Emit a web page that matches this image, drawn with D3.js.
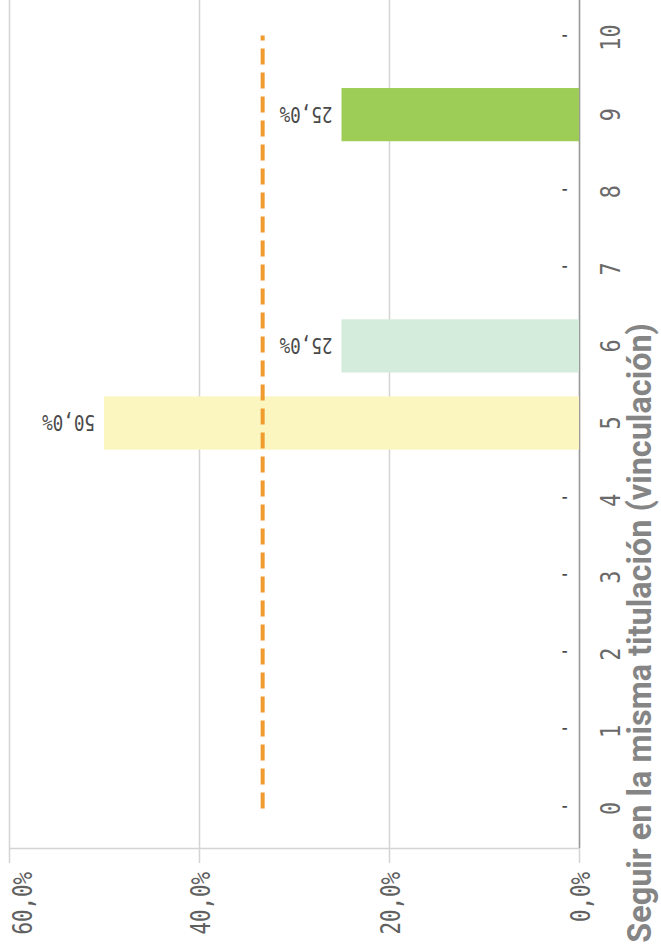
<!DOCTYPE html>
<html><head><meta charset="utf-8">
<script src="https://cdn.jsdelivr.net/npm/d3@7/dist/d3.min.js"></script>
<style>html,body{margin:0;padding:0;background:#fff;overflow:hidden}</style>
</head><body>
<script>
const categories = ["0","1","2","3","4","5","6","7","8","9","10"];
const values = [0,0,0,0,0,50,25,0,0,25,0];
const barColors = ["#e8604c","#ec7a4f","#f09a55","#f5b85e","#f8d46c","#fbf6bf","#d3ecdb","#bfe0a8","#afd67e","#9dcd57","#7fbf3f"];
const averageValue = 33.3;
const valueTicks = [0,20,40,60];
const title = "Seguir en la misma titulación (vinculación)";

const W = 661, H = 948;
const svg = d3.select("body").append("svg").attr("width", W).attr("height", H);

const x = d3.scaleLinear().domain([0,60]).range([579,9]);
const y = d3.scaleBand().domain(categories).range([847,-1]).paddingInner(0.31).paddingOuter(0.155);
const fmt = v => v === 0 ? "-" : d3.format(".1f")(v).replace(".", ",") + "%";
const mono = "'DejaVu Sans Mono', monospace";

// gridlines
svg.append("g").selectAll("line").data(valueTicks).join("line")
  .attr("x1", d => x(d)+0.5).attr("x2", d => x(d)+0.5)
  .attr("y1", 0).attr("y2", 863)
  .attr("stroke", "#d4d4d4").attr("stroke-width", 1.5);

// category axis baseline
svg.append("line").attr("x1", x(60)).attr("x2", x(0)).attr("y1", 848.5).attr("y2", 848.5)
  .attr("stroke", "#d4d4d4").attr("stroke-width", 1.5);
// value zero axis
svg.append("line").attr("x1", x(0)+0.5).attr("x2", x(0)+0.5).attr("y1", 0).attr("y2", 848)
  .attr("stroke", "#9a9a9a").attr("stroke-width", 1.5);

// bars
svg.append("g").selectAll("rect").data(categories).join("rect")
  .attr("x", (d,i) => x(values[i])).attr("width", (d,i) => x(0) - x(values[i]))
  .attr("y", d => y(d)).attr("height", y.bandwidth())
  .attr("fill", (d,i) => barColors[i]);

// average dashed line
svg.append("line")
  .attr("x1", x(averageValue)).attr("x2", x(averageValue))
  .attr("y1", y("0") + y.bandwidth()/2).attr("y2", y("10") + y.bandwidth()/2 - 2)
  .attr("stroke", "#ef9b2d").attr("stroke-width", 4).attr("stroke-dasharray", "16 8");

// value labels (rotated 180)
svg.append("g").selectAll("text").data(categories).join("text")
  .attr("transform", (d,i) => `translate(${x(values[i]) - 9},${y(d)+y.bandwidth()/2}) rotate(180) scale(0.8,1)`)
  .attr("text-anchor", "start").attr("dy", "0.36em")
  .attr("font-family", mono).attr("font-size", 22).attr("fill", "#4a4a4a")
  .text((d,i) => fmt(values[i]));

// category labels
svg.append("g").selectAll("text").data(categories).join("text")
  .attr("transform", d => `translate(611,${y(d)+y.bandwidth()/2}) rotate(-90) scale(0.84,1)`)
  .attr("text-anchor", "middle").attr("dy", "0.36em")
  .attr("font-family", mono).attr("font-size", 26).attr("fill", "#6a6a6a")
  .text(d => d);

// value tick labels
svg.append("g").selectAll("text").data(valueTicks).join("text")
  .attr("transform", d => `translate(${Math.max(x(d)+2, 23)},872) rotate(-90) scale(0.8,1)`)
  .attr("text-anchor", "end").attr("dy", "0.36em")
  .attr("font-family", mono).attr("font-size", 26).attr("fill", "#606060")
  .text(d => d3.format(".1f")(d).replace(".", ",") + "%");

// title
const t = svg.append("text")
  .attr("transform", "translate(651,323) rotate(-90)")
  .attr("text-anchor", "end")
  .attr("font-family", "Roboto, 'Liberation Sans', sans-serif").attr("font-weight", "bold")
  .attr("font-size", 28).attr("fill", "#858585")
  .text(title);
const len = t.node().getComputedTextLength();
t.attr("font-size", 28 * 620 / len);
</script>
</body></html>
